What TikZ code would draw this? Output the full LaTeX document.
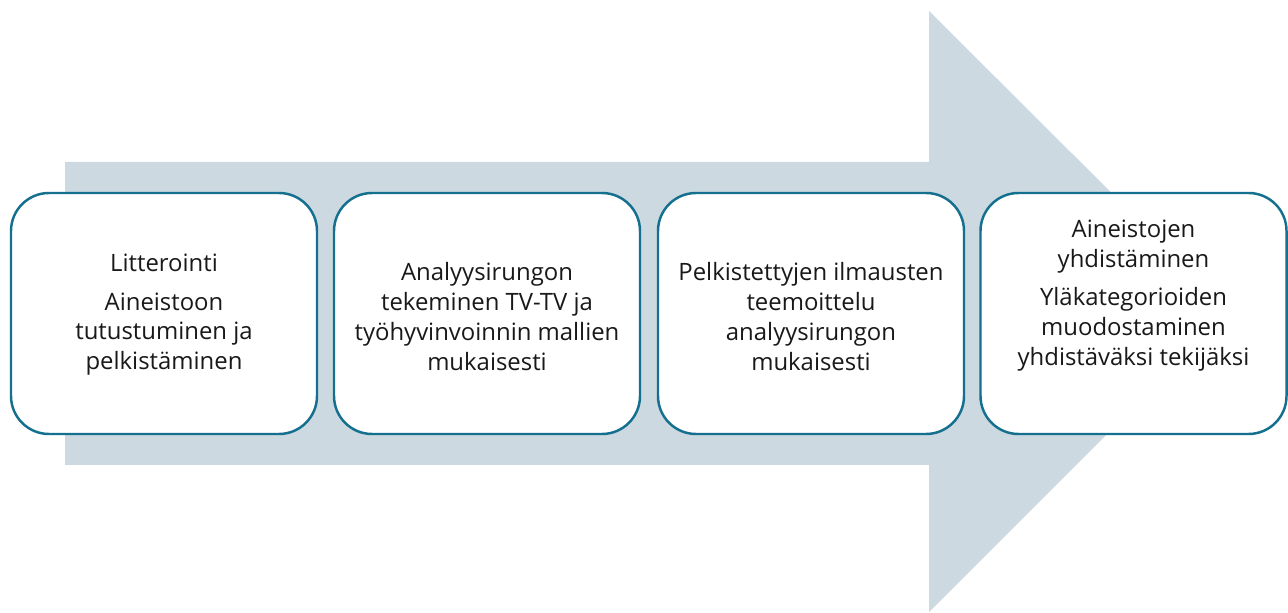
\documentclass[tikz,border=0pt]{standalone}
\usepackage{fontspec}
\setmainfont{Open Sans}
\definecolor{arrowgray}{RGB}{204,217,225}
\definecolor{boxteal}{RGB}{20,112,142}
\tikzset{
    phasebox/.style={draw=boxteal, line width=1.4pt, fill=white, rounded corners=0.76cm,
        minimum width=6.12cm, minimum height=4.82cm, inner sep=0pt},
    phasetext/.style={align=center, font=\fontsize{13.6}{16.9}\selectfont, text=black!90}
}
\begin{document}
\begin{tikzpicture}
    \useasboundingbox (0,0) rectangle (25.76,12.24);

    % Background arrow (process direction)
    \fill[arrowgray] (1.30,9.00) -- (18.58,9.00) -- (18.58,12.02) -- (24.60,6.02)
        -- (18.58,0) -- (18.58,2.94) -- (1.30,2.94) -- cycle;

    % Phase boxes
    \node[phasebox] (b1) at (3.28,5.97) {};
    \node[phasebox] (b2) at (9.74,5.97) {};
    \node[phasebox] (b3) at (16.22,5.97) {};
    \node[phasebox] (b4) at (22.67,5.97) {};

    % Phase texts
    \node[phasetext] (t1) at ([yshift=-0.02cm]b1.center) {Litterointi\\[0.18cm]Aineistoon\\tutustuminen ja\\pelkistäminen};
    \node[phasetext] (t2) at ([yshift=-0.06cm]b2.center) {Analyysirungon\\tekeminen TV-TV ja\\työhyvinvoinnin mallien\\mukaisesti};
    \node[phasetext] (t3) at ([yshift=-0.06cm]b3.center) {Pelkistettyjen ilmausten\\teemoittelu\\analyysirungon\\mukaisesti};
    \node[phasetext] (t4) at ([yshift=0.36cm]b4.center) {Aineistojen\\yhdistäminen\\[0.18cm]Yläkategorioiden\\muodostaminen\\yhdistäväksi tekijäksi};
\end{tikzpicture}
\end{document}
